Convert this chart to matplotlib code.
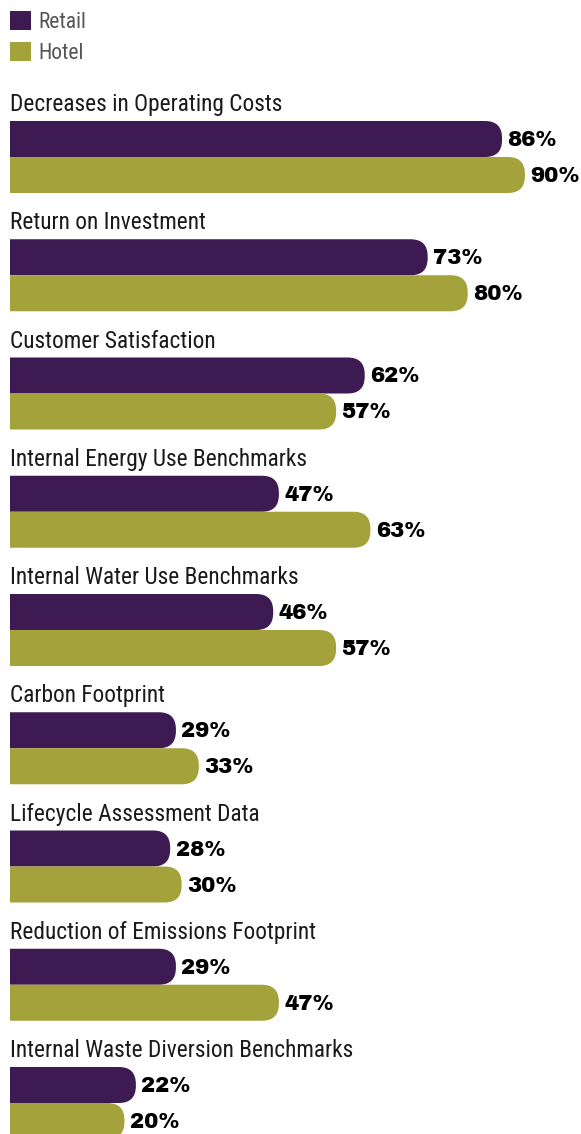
import numpy as np
import matplotlib
matplotlib.use('Agg')
import matplotlib.pyplot as plt
from matplotlib import font_manager
from matplotlib.patches import FancyBboxPatch, Patch

# data
categories = ['Decreases in Operating Costs', 'Return on Investment', 'Customer Satisfaction',
              'Internal Energy Use Benchmarks', 'Internal Water Use Benchmarks', 'Carbon Footprint',
              'Lifecycle Assessment Data', 'Reduction of Emissions Footprint',
              'Internal Waste Diversion Benchmarks']
retail = [86, 73, 62, 47, 46, 29, 28, 29, 22]
hotel = [90, 80, 57, 63, 57, 33, 30, 47, 20]

c_retail = '#3d1a52'
c_hotel = '#a4a23a'

installed = {f.name for f in font_manager.fontManager.ttflist}

def pick(prefs):
    for p in prefs:
        if p in installed:
            return p
    return 'DejaVu Sans'

label_font = pick(['Roboto Condensed', 'Archivo Narrow', 'PT Sans Narrow', 'Liberation Sans Narrow'])
value_font = pick(['Archivo Black', 'Roboto Black', 'Libre Franklin', 'Roboto'])

W, H = 581, 1134
fig = plt.figure(figsize=(W / 100, H / 100), dpi=100)
ax = fig.add_axes([10 / W, 0, 1 - 10 / W, 1])
ax.set_xlim(0, 99.8)
ax.set_ylim(H / 118.25, 0)   # 1 unit = one group
ax.axis('off')

xs = (W - 10) / 99.8         # px per percent
ys = 118.25                  # px per group
bar_h = 36 / ys
r = 17 / xs

pos = np.arange(len(categories)) + 121 / ys

for i, cat in enumerate(categories):
    top = pos[i]
    ax.text(0, top - 10 / ys, cat, fontsize=16.8, family=[label_font, 'DejaVu Sans'],
            color='#1a1a1a', va='baseline', ha='left')
    for j, (vals, col) in enumerate([(retail, c_retail), (hotel, c_hotel)]):
        v = vals[i]
        y0 = top + j * bar_h
        p = FancyBboxPatch((-5, y0), v + 5, bar_h,
                           boxstyle=f'round,pad=0,rounding_size={r}',
                           mutation_aspect=xs / ys, facecolor=col, edgecolor='none')
        ax.add_patch(p)
        ax.text(v + 5.5 / xs, y0 + bar_h / 2 + 1 / ys, f'{v}%', fontsize=15.3,
                family=[value_font, 'DejaVu Sans'], fontweight='black', color='black',
                va='center', ha='left')

handles = [Patch(facecolor=c_retail, label='Retail'), Patch(facecolor=c_hotel, label='Hotel')]
leg = fig.legend(handles=handles, loc='upper left', bbox_to_anchor=(10 / W, 1 - 11 / H),
                 frameon=False, borderpad=0, borderaxespad=0, handlelength=0.96,
                 handleheight=0.96, handletextpad=0.34, labelspacing=0.45,
                 prop={'family': [label_font, 'DejaVu Sans'], 'size': 15.5})
for t in leg.get_texts():
    t.set_color('#555555')

fig.savefig('out.png', dpi=100)
